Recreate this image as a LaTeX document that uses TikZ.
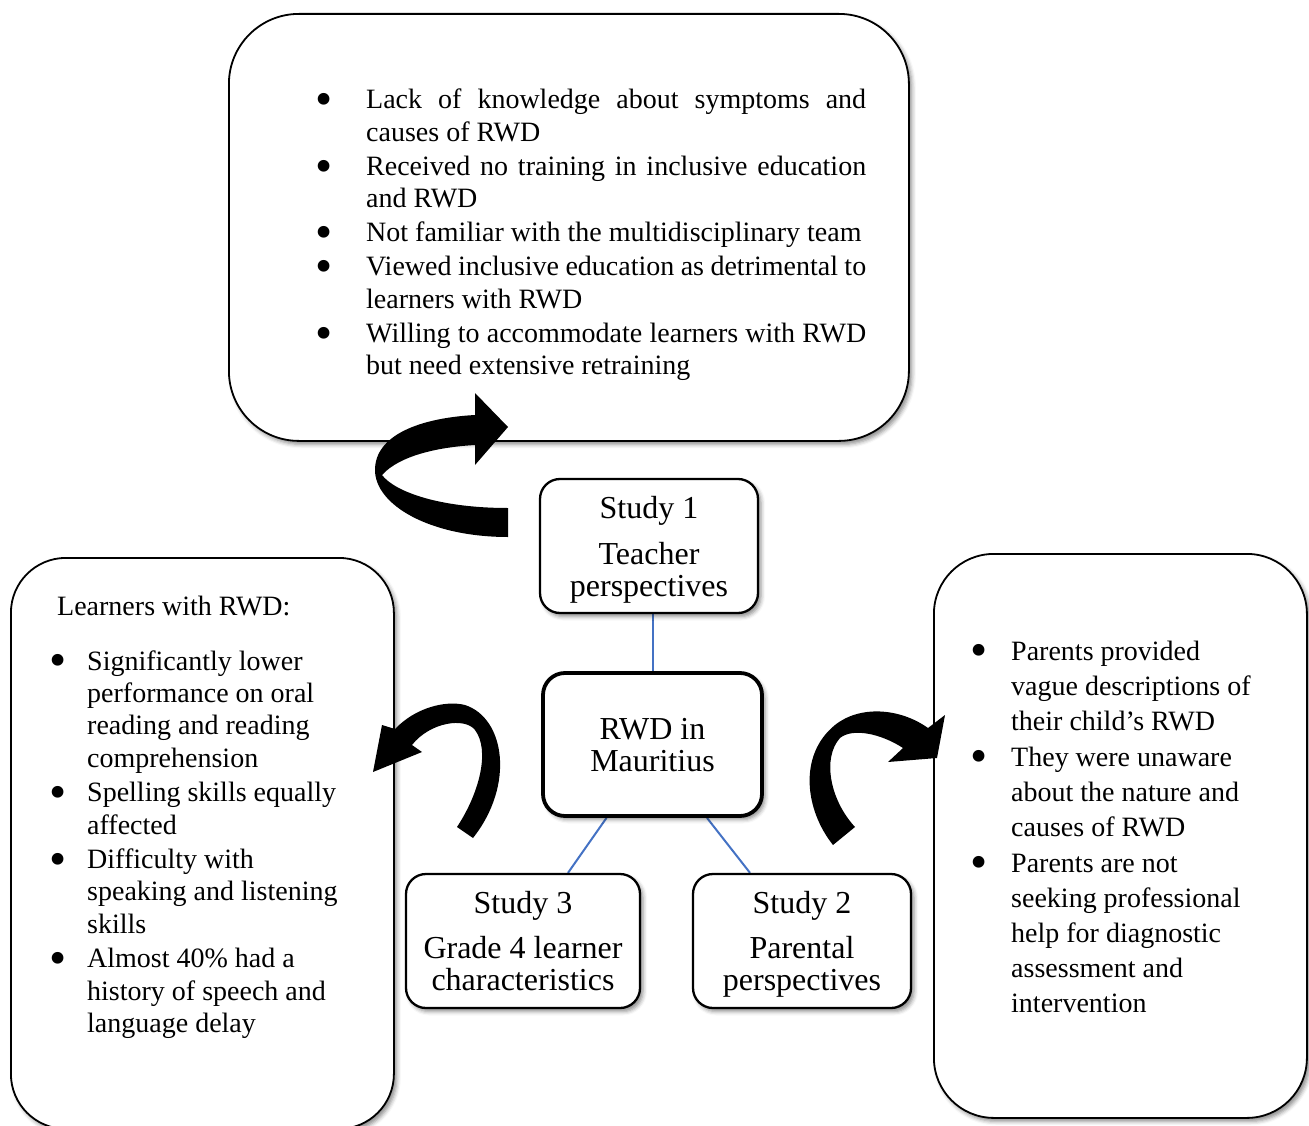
\documentclass[tikz,border=0pt]{standalone}
\usepackage{fontspec}
\usepackage{graphicx}
\setmainfont{Liberation Serif}
\usetikzlibrary{shadows.blur,calc,backgrounds}
\definecolor{linkblue}{HTML}{4472C4}
\newcommand\topfont{\fontsize{28}{32.5}\selectfont}
\newcommand\sidefont{\fontsize{28}{32.4}\selectfont}
\newcommand\rsidefont{\fontsize{28}{35}\selectfont}
\newcommand\studyfont{\fontsize{32}{32}\selectfont}
\newcommand\bul{\smash{\raisebox{-0.24em}{\scalebox{1.75}{\textbullet}}}}
\newcommand\bitem[2]{\par\hangindent=#1\hangafter=1\noindent\makebox[#1][l]{\bul}#2\par}
\newcommand\jl[1]{\makebox[500pt][s]{#1}}
\begin{document}
\begin{tikzpicture}[x=1pt,y=-1pt,
  shadowed/.style={blur shadow={shadow xshift=3pt,shadow yshift=-3.5pt,shadow blur radius=4pt,shadow opacity=45}},
  bigbox/.style={shadowed, draw, fill=white, line width=1.8pt, anchor=north west, inner sep=0pt},
  studybox/.style={shadowed, draw, fill=white, line width=2.3pt, rounded corners=20pt, align=center, font=\studyfont, text depth=0pt, minimum height=134pt, inner sep=0pt},
  hub/.style={studybox, line width=3.8pt, rounded corners=22pt, minimum width=219pt, minimum height=143pt},
  link/.style={draw=linkblue, line width=2pt},
  bullets/.style={anchor=base west, inner sep=0pt},
  bigarrow/.style={fill=black, draw=none}]
\useasboundingbox (0,0) rectangle (1309,1126);

% large boxes
\node[bigbox, rounded corners=70pt, minimum width=680pt, minimum height=427pt] (topbox) at (228,13) {};
\node[bigbox, rounded corners=55pt, minimum width=383pt, minimum height=571pt] (leftbox) at (10,557) {};
\node[bigbox, rounded corners=60pt, minimum width=373pt, minimum height=564pt] (rightbox) at (933,553) {};

% texts of large boxes
\node[bullets] (toptext) at (315,109) {\begin{minipage}[t]{560pt}\topfont
\bitem{51pt}{\jl{Lack of knowledge about symptoms and}\\causes of RWD}\vspace{1.5pt}
\bitem{51pt}{\jl{Received no training in inclusive education}\\and RWD}\vspace{1.5pt}
\bitem{51pt}{Not familiar with the multidisciplinary team}\vspace{1.5pt}
\bitem{51pt}{\jl{Viewed inclusive education as detrimental to}\\learners with RWD}\vspace{1.5pt}
\bitem{51pt}{\jl{Willing to accommodate learners with RWD}\\but need extensive retraining}
\end{minipage}};

\node[bullets] (lefttitle) at (57,615) {\sidefont Learners with RWD:};
\node[bullets] (lefttext) at (49,670) {\begin{minipage}[t]{340pt}\sidefont
\bitem{38pt}{Significantly lower\\performance on oral\\reading and reading\\comprehension}\vspace{2pt}
\bitem{38pt}{Spelling skills equally\\affected}\vspace{2pt}
\bitem{38pt}{Difficulty with\\speaking and listening\\skills}\vspace{2pt}
\bitem{38pt}{Almost 40\% had a\\history of speech and\\language delay}
\end{minipage}};

\node[bullets] (righttext) at (970,660) {\begin{minipage}[t]{330pt}\rsidefont
\bitem{41pt}{Parents provided\\vague descriptions of\\their child’s RWD}\vspace{1pt}
\bitem{41pt}{They were unaware\\about the nature and\\causes of RWD}\vspace{1pt}
\bitem{41pt}{Parents are not\\seeking professional\\help for diagnostic\\assessment and\\intervention}
\end{minipage}};

% curved block arrows
\fill[bigarrow] (508,508) .. controls (440,508) and (395,492) .. (382,475)
  .. controls (400,455) and (440,447) .. (475,445) -- (475,465) -- (508,427) -- (475,393) -- (475,415)
  .. controls (420,418) and (375,435) .. (375,470)
  .. controls (375,505) and (430,537) .. (508,537) -- cycle;
\fill[bigarrow] (373,772) -- (382,725) -- (395,729)
  .. controls (415,708) and (445,700) .. (465,705)
  .. controls (505,718) and (515,785) .. (473,838) -- (457,827)
  .. controls (480,792) and (490,750) .. (475,730)
  .. controls (465,717) and (430,722) .. (412,745) -- (422,752) -- cycle;
\fill[bigarrow] (833,845) .. controls (805,810) and (798,755) .. (835,725)
  .. controls (860,705) and (900,708) .. (928,728) -- (945,715) -- (937,758) -- (888,762) -- (903,748)
  .. controls (880,733) and (852,728) .. (840,738)
  .. controls (822,758) and (830,800) .. (855,827) -- cycle;

% study boxes
\node[studybox, minimum width=218pt] (s1) at (649,546) {Study 1\\[14pt]Teacher\\perspectives};
\node[hub] (rwd) at (652.5,744.5) {RWD in\\Mauritius};
\node[studybox, minimum width=234pt] (s3) at (523,941) {Study 3\\[13pt]Grade 4 learner\\characteristics};
\node[studybox, minimum width=218pt] (s2) at (802,941) {Study 2\\[13pt]Parental\\perspectives};

\begin{scope}[on background layer]
\draw[link] (rwd.north) -- (rwd.north |- s1.south);
\draw[link] ($(rwd.south)+(-46,0)$) -- ($(s3.north)+(45,0)$);
\draw[link] ($(rwd.south)+(54.5,0)$) -- ($(s2.north)+(-52,0)$);
\end{scope}
\end{tikzpicture}
\end{document}
